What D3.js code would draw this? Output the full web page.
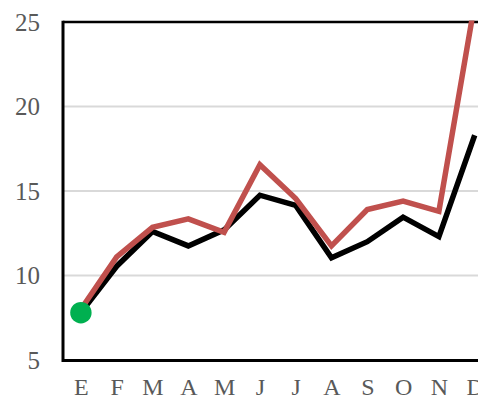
<!DOCTYPE html>
<html>
<head>
<meta charset="utf-8">
<script src="https://cdn.jsdelivr.net/npm/d3@7"></script>
<style>
  html, body { margin: 0; padding: 0; background: #ffffff; overflow: hidden; }
  svg { display: block; }
</style>
</head>
<body>
<script>
// Monthly series (Spanish month initials)
const months = ["E", "F", "M", "A", "M", "J", "J", "A", "S", "O", "N", "D"];
const seriesBlack = [7.8, 10.55, 12.6, 11.75, 12.7, 14.75, 14.15, 11.05, 12.0, 13.45, 12.3, 18.3];
const seriesRed = [8.0, 11.1, 12.85, 13.35, 12.55, 16.55, 14.55, 11.75, 13.9, 14.4, 13.8, 26.1];
const yTicks = [5, 10, 15, 20, 25];
const highlightIndex = 0;

const width = 478, height = 401;
const margin = { left: 63, top: 22, bottom: 41 };
const plotRight = 492.6; // last category sits at the window edge

const svg = d3.select("body").append("svg")
  .attr("width", width)
  .attr("height", height);

const x = d3.scalePoint()
  .domain(d3.range(months.length))
  .range([margin.left, plotRight])
  .padding(0.5);

const y = d3.scaleLinear()
  .domain([5, 25])
  .range([height - margin.bottom, margin.top]);

const fontFamily = "'Liberation Serif', 'DejaVu Serif', serif";

// Horizontal gridlines
svg.append("g")
  .selectAll("line")
  .data(yTicks.filter(t => t > 5 && t < 25))
  .join("line")
  .attr("x1", margin.left)
  .attr("x2", width)
  .attr("y1", d => y(d))
  .attr("y2", d => y(d))
  .attr("stroke", "#d9d9d9")
  .attr("stroke-width", 2);

// Y axis labels
const yAxis = d3.axisLeft(y).tickValues(yTicks).tickSize(0).tickPadding(23);
const gy = svg.append("g")
  .attr("transform", `translate(${margin.left},0)`)
  .call(yAxis);
gy.select(".domain").remove();
gy.selectAll("text")
  .attr("font-family", fontFamily)
  .attr("font-size", 25)
  .attr("fill", "#595959");

// X axis labels
const xAxis = d3.axisBottom(x).tickFormat(i => months[i]).tickSize(0).tickPadding(18);
const gx = svg.append("g")
  .attr("transform", `translate(0,${y(5)})`)
  .call(xAxis);
gx.select(".domain").remove();
gx.selectAll("text")
  .attr("font-family", fontFamily)
  .attr("font-size", 24)
  .attr("fill", "#595959");

// Frame: left, bottom and top borders
svg.append("line")
  .attr("x1", margin.left).attr("x2", width)
  .attr("y1", y(25)).attr("y2", y(25))
  .attr("stroke", "#000").attr("stroke-width", 2.5);
svg.append("line")
  .attr("x1", margin.left).attr("x2", width)
  .attr("y1", y(5) + 0.5).attr("y2", y(5) + 0.5)
  .attr("stroke", "#000").attr("stroke-width", 3);
svg.append("line")
  .attr("x1", margin.left).attr("x2", margin.left)
  .attr("y1", y(25) - 1.2).attr("y2", y(5) + 2)
  .attr("stroke", "#000").attr("stroke-width", 3);

// Clip the series to the plot area
svg.append("clipPath").attr("id", "plot-clip")
  .append("rect")
  .attr("x", margin.left).attr("y", y(25) - 1.5)
  .attr("width", width).attr("height", y(5) - y(25) + 1.5);

const line = d3.line()
  .x((d, i) => x(i))
  .y(d => y(d));

const series = svg.append("g").attr("clip-path", "url(#plot-clip)");

series.append("path")
  .datum(seriesBlack)
  .attr("d", line)
  .attr("fill", "none")
  .attr("stroke", "#000000")
  .attr("stroke-width", 5.5)
  .attr("stroke-linejoin", "miter");

series.append("path")
  .datum(seriesRed)
  .attr("d", line)
  .attr("fill", "none")
  .attr("stroke", "#c0504d")
  .attr("stroke-width", 5.5)
  .attr("stroke-linejoin", "miter");

// Highlighted starting point
svg.append("circle")
  .attr("cx", x(highlightIndex))
  .attr("cy", y(seriesBlack[highlightIndex]))
  .attr("r", 10.7)
  .attr("fill", "#00b050");
</script>
</body>
</html>
